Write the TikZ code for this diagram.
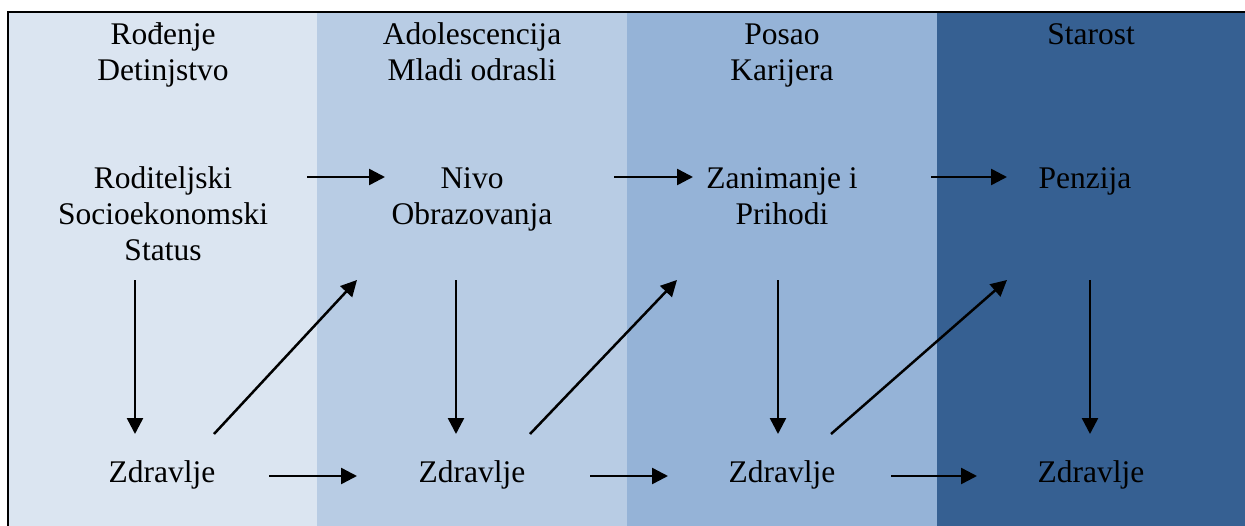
\documentclass[tikz,border=0pt]{standalone}
\usepackage{fontspec}
\setmainfont{Liberation Serif}
\usetikzlibrary{arrows.meta}
\definecolor{colA}{HTML}{DBE5F1}
\definecolor{colB}{HTML}{B8CCE4}
\definecolor{colC}{HTML}{95B3D7}
\definecolor{colD}{HTML}{366092}
\begin{document}
\begin{tikzpicture}[x=1pt,y=-1pt,
  lbl/.style={anchor=base, align=center, font=\fontsize{31.5}{36}\selectfont, inner sep=0pt},
  arr/.style={line width=2.5pt, -{Triangle[length=16pt,width=16pt]}}]
\useasboundingbox (0,0) rectangle (1245,525);
\clip (0,0) rectangle (1245,525);
\fill[colA] (8,12) rectangle (317,540);
\fill[colB] (317,12) rectangle (627,540);
\fill[colC] (627,12) rectangle (937,540);
\fill[colD] (937,12) rectangle (1260,540);
\draw[line width=2pt] (8,12) rectangle (1260,540);
% headers (base anchor = baseline of last line)
\node[lbl] (h1) at (163,80) {Rođenje\\Detinjstvo};
\node[lbl] (h2) at (472,80) {Adolescencija\\Mladi odrasli};
\node[lbl] (h3) at (782,80) {Posao\\Karijera};
\node[lbl] (h4) at (1091,44) {Starost};
% middle row
\node[lbl] (s1) at (163,260) {Roditeljski\\Socioekonomski\\Status};
\node[lbl] (s2) at (472,224) {Nivo\\Obrazovanja};
\node[lbl] (s3) at (782,224) {Zanimanje i\\Prihodi};
\node[lbl] (s4) at (1085,188) {Penzija};
% bottom row
\node[lbl] (z1) at (162,482) {Zdravlje};
\node[lbl] (z2) at (472,482) {Zdravlje};
\node[lbl] (z3) at (782,482) {Zdravlje};
\node[lbl] (z4) at (1091,482) {Zdravlje};
% arrow end points
\coordinate (t1a) at (307,177); \coordinate (t1b) at (385,177);
\coordinate (t2a) at (614,177); \coordinate (t2b) at (693,177);
\coordinate (t3a) at (931,177); \coordinate (t3b) at (1007,177);
\coordinate (b1a) at (269,476); \coordinate (b1b) at (357,476);
\coordinate (b2a) at (590,476); \coordinate (b2b) at (668,476);
\coordinate (b3a) at (891,476); \coordinate (b3b) at (977,476);
\coordinate (v1a) at (135,280); \coordinate (v1b) at (135,434);
\coordinate (v2a) at (456,280); \coordinate (v2b) at (456,434);
\coordinate (v3a) at (778,280); \coordinate (v3b) at (778,434);
\coordinate (v4a) at (1090,280); \coordinate (v4b) at (1090,434);
\coordinate (d1a) at (214,434); \coordinate (d1b) at (357,280);
\coordinate (d2a) at (530,434); \coordinate (d2b) at (677,280);
\coordinate (d3a) at (831,434); \coordinate (d3b) at (1007,280);
\foreach \p in {t1,t2,t3,b1,b2,b3,v1,v2,v3,v4,d1,d2,d3}
  \draw[arr] (\p a) -- (\p b);
\end{tikzpicture}
\end{document}
